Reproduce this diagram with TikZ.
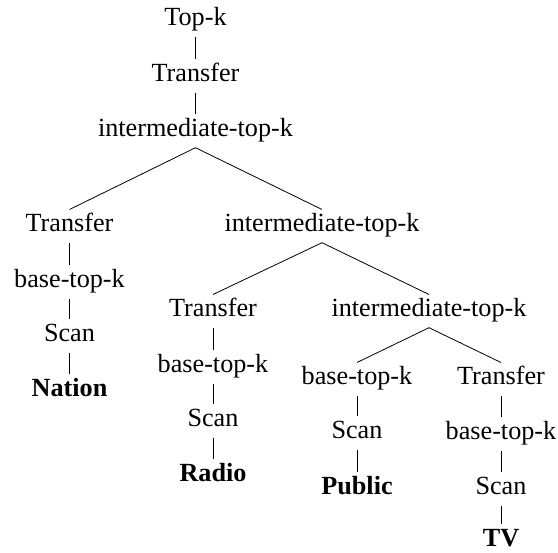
\documentclass[tikz,border=0pt]{standalone}
\usepackage{fontspec}
\setmainfont{Liberation Serif}
\begin{document}
\begin{tikzpicture}[x=1pt,y=-1pt,
  tn/.style={font=\fontsize{26.2}{30}\selectfont, text height=18.3pt, text depth=6.5pt,
             inner xsep=2pt, inner ysep=4pt, anchor=base},
  rel/.style={tn, font=\fontsize{26.2}{30}\selectfont\bfseries},
  edge/.style={line width=0.8pt}]
\useasboundingbox (0,0) rectangle (558,553);
\node[tn] (topk) at (195.5,26) {Top-k};
\node[tn] (tr0) at (195.5,82) {Transfer};
\node[tn] (it1) at (195.5,137) {intermediate-top-k};
\node[tn] (trA) at (69.5,232) {Transfer};
\node[tn] (btA) at (69.5,288) {base-top-k};
\node[tn] (scA) at (69.5,342) {Scan};
\node[rel] (nat) at (69.5,397) {Nation};
\node[tn] (it2) at (322,232) {intermediate-top-k};
\node[tn] (trB) at (213,317) {Transfer};
\node[tn] (btB) at (213,373) {base-top-k};
\node[tn] (scB) at (213,427) {Scan};
\node[rel] (rad) at (213,482) {Radio};
\node[tn] (it3) at (429,317) {intermediate-top-k};
\node[tn] (btC) at (357,385) {base-top-k};
\node[tn] (scC) at (357,439) {Scan};
\node[rel] (pub) at (357,495) {Public};
\node[tn] (trD) at (501,385) {Transfer};
\node[tn] (btD) at (501,440) {base-top-k};
\node[tn] (scD) at (501,495) {Scan};
\node[rel] (tv) at (501,547) {TV};
\draw[edge] (topk.south) -- (tr0.north);
\draw[edge] (tr0.south) -- (it1.north);
\draw[edge] (it1.south) -- (trA.north);
\draw[edge] (it1.south) -- (it2.north);
\draw[edge] (trA.south) -- (btA.north);
\draw[edge] (btA.south) -- (scA.north);
\draw[edge] (scA.south) -- (nat.north);
\draw[edge] (it2.south) -- (trB.north);
\draw[edge] (it2.south) -- (it3.north);
\draw[edge] (trB.south) -- (btB.north);
\draw[edge] (btB.south) -- (scB.north);
\draw[edge] (scB.south) -- (rad.north);
\draw[edge] (it3.south) -- (btC.north);
\draw[edge] (it3.south) -- (trD.north);
\draw[edge] (btC.south) -- (scC.north);
\draw[edge] (scC.south) -- (pub.north);
\draw[edge] (trD.south) -- (btD.north);
\draw[edge] (btD.south) -- (scD.north);
\draw[edge] (scD.south) -- (tv.north);
\end{tikzpicture}
\end{document}
